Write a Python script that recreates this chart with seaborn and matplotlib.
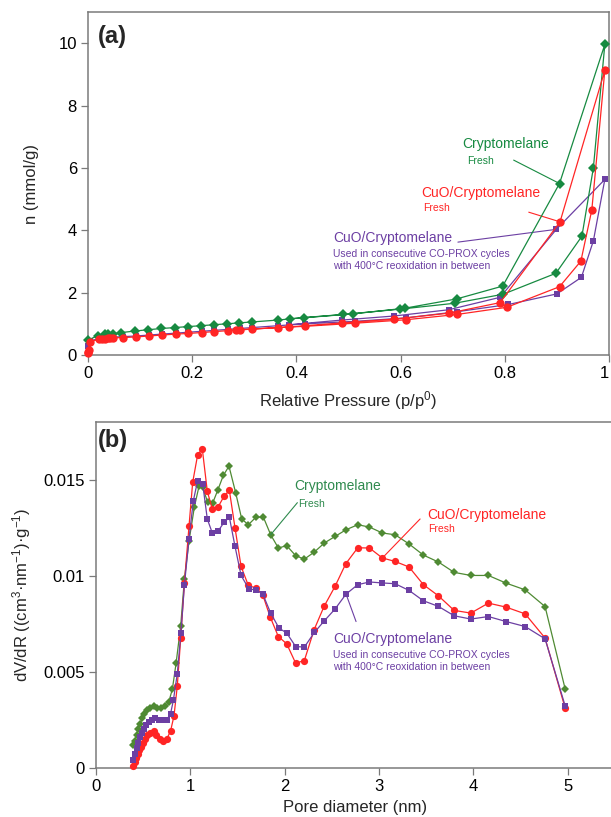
import numpy as np
import pandas as pd
import matplotlib
matplotlib.use("Agg")
import matplotlib.pyplot as plt
import seaborn as sns

# ---------------- data: panel (a) N2 isotherms (adsorption then desorption) ----------------
ga_p = [0.0, 0.019, 0.032, 0.038, 0.048, 0.064, 0.091, 0.115, 0.141, 0.167, 0.191, 0.217,
        0.241, 0.266, 0.29, 0.315, 0.364, 0.414, 0.49, 0.599, 0.704, 0.797, 0.898, 0.948,
        0.97, 0.992, 0.905, 0.796, 0.708, 0.608, 0.509, 0.388]
ga_n = [0.48, 0.62, 0.66, 0.67, 0.68, 0.72, 0.77, 0.81, 0.85, 0.88, 0.91, 0.94,
        0.97, 1.0, 1.03, 1.06, 1.12, 1.2, 1.3, 1.47, 1.66, 1.95, 2.62, 3.81,
        6.0, 9.96, 5.5, 2.21, 1.80, 1.50, 1.32, 1.16]

ra_p = [0.0, 0.0, 0.001, 0.003, 0.022, 0.027, 0.033, 0.038, 0.043, 0.048, 0.068, 0.093,
        0.117, 0.142, 0.168, 0.192, 0.218, 0.242, 0.268, 0.285, 0.315, 0.365, 0.417, 0.513,
        0.61, 0.708, 0.804, 0.905, 0.946, 0.967, 0.992, 0.906, 0.791, 0.692, 0.587, 0.487,
        0.386, 0.292]
ra_n = [0.05, 0.1, 0.15, 0.43, 0.5, 0.51, 0.52, 0.53, 0.54, 0.55, 0.56, 0.58,
        0.61, 0.64, 0.67, 0.69, 0.72, 0.75, 0.78, 0.8, 0.83, 0.88, 0.92, 1.02,
        1.13, 1.30, 1.53, 2.19, 3.01, 4.65, 9.13, 4.27, 1.68, 1.34, 1.15, 1.03,
        0.9, 0.81]

pa_p = [0.0, 0.003, 0.022, 0.033, 0.043, 0.068, 0.093, 0.117, 0.142, 0.168, 0.192, 0.218,
        0.242, 0.268, 0.292, 0.315, 0.365, 0.417, 0.513, 0.61, 0.709, 0.807, 0.9, 0.947,
        0.97, 0.992, 0.899, 0.791, 0.692, 0.587, 0.487, 0.386]
pa_n = [0.3, 0.45, 0.53, 0.55, 0.57, 0.59, 0.61, 0.64, 0.67, 0.70, 0.73, 0.76,
        0.79, 0.82, 0.85, 0.88, 0.94, 1.0, 1.08, 1.19, 1.39, 1.62, 1.96, 2.49,
        3.66, 5.63, 4.03, 1.85, 1.45, 1.25, 1.12, 0.97]

# ---------------- data: panel (b) pore size distributions ----------------
gb_d = [0.396, 0.41, 0.43, 0.45, 0.47, 0.49, 0.51, 0.54, 0.57, 0.61, 0.65, 0.69, 0.73, 0.77,
        0.81, 0.849, 0.898, 0.937, 0.986, 1.043, 1.092, 1.131, 1.184, 1.237, 1.29, 1.35, 1.41,
        1.481, 1.545, 1.615, 1.697, 1.774, 1.852, 1.933, 2.022, 2.117, 2.209, 2.315, 2.421,
        2.534, 2.651, 2.775, 2.899, 3.036, 3.171, 3.319, 3.471, 3.63, 3.797, 3.974, 4.16,
        4.348, 4.55, 4.761, 4.974]
gb_v = [0.0012, 0.0014, 0.0017, 0.0020, 0.0023, 0.0026, 0.0028, 0.0030, 0.0031, 0.0032, 0.0031,
        0.0031, 0.0032, 0.0034, 0.0041, 0.00544, 0.00739, 0.0098, 0.0118, 0.01358, 0.01465,
        0.0146, 0.01382, 0.01378, 0.01444, 0.01522, 0.0157, 0.01431, 0.01295, 0.01265, 0.01305,
        0.01305, 0.01213, 0.01144, 0.01156, 0.01104, 0.01086, 0.01123, 0.0117, 0.01204, 0.01239,
        0.01265, 0.01253, 0.01222, 0.01213, 0.01165, 0.01107, 0.01071, 0.01017, 0.01001, 0.01001,
        0.00961, 0.00926, 0.00839, 0.0041]

rb_d = [0.396, 0.41, 0.42, 0.44, 0.46, 0.48, 0.50, 0.52, 0.54, 0.57, 0.61, 0.64, 0.68, 0.71,
        0.75, 0.79, 0.827, 0.862, 0.898, 0.937, 0.986, 1.025, 1.078, 1.127, 1.18, 1.233, 1.297,
        1.357, 1.414, 1.474, 1.538, 1.615, 1.697, 1.768, 1.845, 1.933, 2.022, 2.117, 2.209,
        2.312, 2.418, 2.534, 2.648, 2.775, 2.899, 3.036, 3.171, 3.319, 3.471, 3.63, 3.797,
        3.974, 4.16, 4.348, 4.55, 4.761, 4.974]
rb_v = [0.0001, 0.0003, 0.0005, 0.0007, 0.0009, 0.0011, 0.0013, 0.0015, 0.0017, 0.0018, 0.0019,
        0.0017, 0.0015, 0.0014, 0.0015, 0.0019, 0.0027, 0.00426, 0.00675, 0.0096, 0.01257,
        0.01486, 0.0163, 0.0166, 0.01439, 0.01347, 0.0136, 0.01413, 0.01444, 0.01248, 0.01048,
        0.00949, 0.00935, 0.009, 0.00787, 0.00683, 0.00645, 0.00544, 0.00558, 0.00718, 0.0084,
        0.00944, 0.01062, 0.01145, 0.01144, 0.01092, 0.01074, 0.01045, 0.00953, 0.00895, 0.00819,
        0.00805, 0.00857, 0.00836, 0.00801, 0.00675, 0.0031]

pb_d = [0.396, 0.41, 0.43, 0.45, 0.47, 0.49, 0.51, 0.53, 0.56, 0.59, 0.63, 0.67, 0.71, 0.75,
        0.79, 0.82, 0.862, 0.9, 0.937, 0.986, 1.032, 1.078, 1.131, 1.18, 1.233, 1.297, 1.357,
        1.414, 1.474, 1.538, 1.622, 1.697, 1.768, 1.852, 1.94, 2.022, 2.117, 2.209, 2.315,
        2.421, 2.534, 2.651, 2.775, 2.899, 3.036, 3.171, 3.319, 3.471, 3.63, 3.797, 3.974,
        4.16, 4.348, 4.55, 4.761, 4.974]
pb_v = [0.0004, 0.0007, 0.0010, 0.0013, 0.0016, 0.0018, 0.0020, 0.0022, 0.0024, 0.0025, 0.0026,
        0.0025, 0.0025, 0.0025, 0.0028, 0.0035, 0.0049, 0.0070, 0.0095, 0.01192, 0.0139,
        0.01495, 0.01479, 0.01295, 0.01222, 0.01234, 0.01277, 0.01304, 0.01152, 0.01001, 0.0093,
        0.00926, 0.00904, 0.00805, 0.00727, 0.00701, 0.00631, 0.00628, 0.00704, 0.00765, 0.00826,
        0.00904, 0.00953, 0.00967, 0.00962, 0.00958, 0.00923, 0.00869, 0.0084, 0.00791, 0.00774,
        0.00787, 0.00761, 0.00735, 0.00671, 0.00322]

label_crypt = "Cryptomelane"
label_cuo = "CuO/Cryptomelane"
sub_fresh = "Fresh"
sub_used = "Used in consecutive CO-PROX cycles\nwith 400\u00b0C reoxidation in between"

a_xticks = [0, 0.2, 0.4, 0.6, 0.8, 1]
a_xticklabels = ["0", "0.2", "0.4", "0.6", "0.8", "1"]
a_yticks = [0, 2, 4, 6, 8, 10]
b_xticks = [0, 1, 2, 3, 4, 5]
b_yticks = [0, 0.005, 0.01, 0.015]
b_yticklabels = ["0", "0.005", "0.01", "0.015"]

# ---------------- style ----------------
sns.set_style("white")
plt.rcParams["font.family"] = ["Liberation Sans", "DejaVu Sans"]
plt.rcParams["mathtext.fontset"] = "custom"
plt.rcParams["mathtext.rm"] = "Liberation Sans"
plt.rcParams["mathtext.it"] = "Liberation Sans:italic"
plt.rcParams["axes.unicode_minus"] = True

GREEN_A = "#178a41"
GREEN_B = "#4f8a33"
GREEN_TXT_B = "#2f8a4e"
RED = "#ff2525"
PURPLE = "#6c3fa3"
SPINE = "#7a7a7a"

W, H = 611, 817
fig = plt.figure(figsize=(W / 100, H / 100), dpi=100)
ax_a = fig.add_axes([88 / W, 1 - 355 / H, 521 / W, 343 / H])
ax_b = fig.add_axes([96 / W, 1 - 767.7 / H, 515 / W, 345.7 / H])


def style_axes(ax, right=True):
    for s in ["left", "bottom", "top", "right"]:
        ax.spines[s].set_color(SPINE)
        ax.spines[s].set_linewidth(1.1)
    ax.spines["right"].set_visible(right)
    ax.tick_params(axis="both", direction="out", length=5, width=0.9, color=SPINE,
                   labelsize=12, pad=3, labelcolor="black",
                   top=False, right=False, left=True, bottom=True)


def series(ax, x, y, color, marker, ms, z):
    sns.lineplot(x=x, y=y, sort=False, estimator=None, ax=ax, color=color,
                 marker=marker, markersize=ms, markeredgewidth=0, linewidth=0.9,
                 clip_on=False, zorder=z)


# ---------------- panel (a) ----------------
series(ax_a, pa_p, pa_n, PURPLE, "s", 5, 3)
series(ax_a, ga_p, ga_n, GREEN_A, "D", 4.6, 4)
series(ax_a, ra_p, ra_n, RED, "o", 6, 5)

ax_a.set_xlim(0, 1.0)
ax_a.set_ylim(0, 11)
ax_a.set_xticks(a_xticks)
ax_a.set_xticklabels(a_xticklabels)
ax_a.set_yticks(a_yticks)
style_axes(ax_a, right=True)
ax_a.get_xticklabels()[-1].set_horizontalalignment("right")
ax_a.set_xlabel(r"Relative Pressure (p/p$^\mathregular{0}$)", fontsize=12)
ax_a.set_ylabel("n (mmol/g)", fontsize=12)
ax_a.xaxis.set_label_coords(0.5, -0.099)
ax_a.yaxis.set_label_coords(-0.094, 0.5)
ax_a.text(0.019, 10.2, "(a)", fontsize=17, fontweight="bold", va="center", ha="left")

line_kw = dict(arrowstyle="-", lw=0.8, shrinkA=0, shrinkB=0)
# green annotation
ax_a.text(0.719, 6.76, label_crypt, color=GREEN_A, fontsize=10, va="center", ha="left")
ax_a.text(0.727, 6.22, sub_fresh, color=GREEN_A, fontsize=7.5, va="center", ha="left")
i = ga_p.index(0.905)
ax_a.annotate("", xy=(ga_p[i], ga_n[i]), xytext=(0.817, 6.25),
              arrowprops=dict(color=GREEN_A, **line_kw))
# red annotation
ax_a.text(0.640, 5.19, label_cuo, color=RED, fontsize=10, va="center", ha="left")
ax_a.text(0.644, 4.71, sub_fresh, color=RED, fontsize=7.5, va="center", ha="left")
i = ra_p.index(0.906)
ax_a.annotate("", xy=(ra_p[i], ra_n[i]), xytext=(0.846, 4.58),
              arrowprops=dict(color=RED, **line_kw))
# purple annotation
ax_a.text(0.471, 3.75, label_cuo, color=PURPLE, fontsize=10, va="center", ha="left")
ax_a.text(0.471, 3.05, sub_used, color=PURPLE, fontsize=7.5, va="center", ha="left",
          linespacing=1.25)
i = pa_p.index(0.899)
ax_a.annotate("", xy=(pa_p[i], pa_n[i]), xytext=(0.71, 3.62),
              arrowprops=dict(color=PURPLE, **line_kw))

# ---------------- panel (b) ----------------
series(ax_b, gb_d, gb_v, GREEN_B, "D", 4.2, 3)
series(ax_b, rb_d, rb_v, RED, "o", 5.2, 4)
series(ax_b, pb_d, pb_v, PURPLE, "s", 5, 5)

ax_b.set_xlim(0, 5.46)
ax_b.set_ylim(0, 0.018)
ax_b.set_xticks(b_xticks)
ax_b.set_yticks(b_yticks)
ax_b.set_yticklabels(b_yticklabels)
style_axes(ax_b, right=False)
ax_b.set_xlabel("Pore diameter (nm)", fontsize=12)
ax_b.set_ylabel(r"dV/dR ((cm$^\mathregular{3}$·nm$^\mathregular{-1}$)·g$^\mathregular{-1}$)",
                fontsize=12)
ax_b.xaxis.set_label_coords(0.504, -0.093)
ax_b.yaxis.set_label_coords(-0.122, 0.5)
ax_b.text(0.021, 0.01703, "(b)", fontsize=17, fontweight="bold", va="center", ha="left")

ax_b.text(2.10, 0.01465, label_crypt, color=GREEN_TXT_B, fontsize=10, va="center", ha="left")
ax_b.text(2.142, 0.01375, sub_fresh, color=GREEN_TXT_B, fontsize=7.5, va="center", ha="left")
i = gb_d.index(1.852)
ax_b.annotate("", xy=(gb_d[i], gb_v[i]), xytext=(2.135, 0.0138),
              arrowprops=dict(color=GREEN_TXT_B, **line_kw))

ax_b.text(3.51, 0.01317, label_cuo, color=RED, fontsize=10, va="center", ha="left")
ax_b.text(3.52, 0.01245, sub_fresh, color=RED, fontsize=7.5, va="center", ha="left")
i = rb_d.index(3.036)
ax_b.annotate("", xy=(rb_d[i], rb_v[i]), xytext=(3.436, 0.01295),
              arrowprops=dict(color=RED, **line_kw))

ax_b.text(2.513, 0.00671, label_cuo, color=PURPLE, fontsize=10, va="center", ha="left")
ax_b.text(2.513, 0.00558, sub_used, color=PURPLE, fontsize=7.5, va="center", ha="left",
          linespacing=1.25)
i = pb_d.index(2.651)
ax_b.annotate("", xy=(pb_d[i], pb_v[i]), xytext=(2.757, 0.00761),
              arrowprops=dict(color=PURPLE, **line_kw))

fig.savefig("out.png", dpi=100)
